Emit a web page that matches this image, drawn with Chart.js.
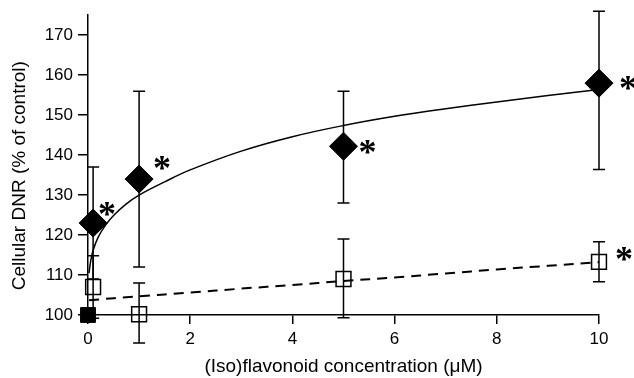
<!DOCTYPE html>
<html>
<head>
<meta charset="utf-8">
<script src="https://cdn.jsdelivr.net/npm/chart.js@4"></script>
<style>
  html, body { margin: 0; padding: 0; background: #fff; }
  #c { display: block; }
</style>
</head>
<body>
<canvas id="c" width="634" height="378"></canvas>
<script>
// ---- data ----
const xTicks = [0, 2, 4, 6, 8, 10];
const yTicks = [100, 110, 120, 130, 140, 150, 160, 170];

// filled diamonds (flavonoid)
const flavX  = [0.1, 1, 5, 10];
const flavY  = [123, 134, 142.2, 158];
const flavHi = [137, 156, 156, 176];
const flavLo = [109, 112, 128, 136.4];
const flavSig = [true, true, true, true];

// open squares (isoflavonoid)
const isoX  = [0.1, 1, 5, 10];
const isoY  = [107, 100.2, 109, 113.3];
const isoHi = [114.8, 108, 119, 118.3];
const isoLo = [99.2, 93, 99.3, 108.3];
const isoSig = [false, false, false, true];

// control point
const ctrlX = [0];
const ctrlY = [100];

// fitted solid curve
const fitSolidX = [0.02, 0.05, 0.1, 0.2, 0.35, 0.5, 0.75, 1, 1.5, 2, 3, 4, 5, 6, 7, 8, 9, 10];
const fitSolidY = [110.5, 113.3, 116.2, 119.5, 122.6, 124.9, 127.8, 130.0, 133.3, 136.3, 141.0, 144.6, 147.4, 149.7, 151.6, 153.3, 154.9, 156.4];

// fitted dashed curve
const fitDashX = [0.02, 1, 2, 3, 4, 5, 6, 7, 8, 9, 10];
const fitDashY = [103.7, 104.7, 105.6, 106.6, 107.5, 108.5, 109.4, 110.4, 111.4, 112.3, 113.2];

const toPts = (xs, ys) => xs.map((x, i) => ({ x: x, y: ys[i] }));

const FONT = '"Liberation Sans", Arial, Helvetica, sans-serif';
const STAR_FONT = '"Liberation Serif", "Times New Roman", serif';

// error bars + significance asterisks
const annotPlugin = {
  id: 'annot',
  afterDatasetsDraw(chart, args, opts) {
    const ctx = chart.ctx;
    const ys = chart.scales.y;
    ctx.save();
    ctx.strokeStyle = '#000';
    ctx.lineWidth = 1.5;
    (opts.bars || []).forEach(b => {
      const meta = chart.getDatasetMeta(b.dataset);
      meta.data.forEach((el, j) => {
        const x = el.x;
        const yt = ys.getPixelForValue(b.hi[j]);
        const yb = ys.getPixelForValue(b.lo[j]);
        ctx.beginPath();
        ctx.moveTo(x, yt); ctx.lineTo(x, yb);
        ctx.moveTo(x - 6, yt); ctx.lineTo(x + 6, yt);
        ctx.moveTo(x - 6, yb); ctx.lineTo(x + 6, yb);
        ctx.stroke();
      });
    });
    ctx.fillStyle = '#000';
    ctx.textAlign = 'left';
    ctx.textBaseline = 'alphabetic';
    // size the glyph so it is about opts.starSize px across
    ctx.font = 'bold 100px ' + STAR_FONT;
    let m = ctx.measureText('*');
    const w100 = (m.actualBoundingBoxLeft + m.actualBoundingBoxRight) || 50;
    const size = Math.round(100 * (opts.starSize || 15) / w100);
    ctx.font = 'bold ' + size + 'px ' + STAR_FONT;
    m = ctx.measureText('*');
    const gw = m.actualBoundingBoxLeft + m.actualBoundingBoxRight;
    (opts.stars || []).forEach(s => {
      const meta = chart.getDatasetMeta(s.dataset);
      meta.data.forEach((el, j) => {
        if (!s.sig[j]) return;
        const off = s.offsets[j];
        const cx = el.x + off[0];
        const cy = el.y + off[1];
        const bx = cx - gw / 2 + m.actualBoundingBoxLeft;
        const by = cy - (m.actualBoundingBoxDescent - m.actualBoundingBoxAscent) / 2;
        ctx.fillText('*', bx, by);
      });
    });
    ctx.restore();
  }
};

const bgPlugin = {
  id: 'bg',
  beforeDraw(chart) {
    const ctx = chart.ctx;
    ctx.save();
    ctx.fillStyle = '#fff';
    ctx.fillRect(0, 0, chart.width, chart.height);
    ctx.restore();
  }
};

new Chart(document.getElementById('c'), {
  type: 'scatter',
  data: {
    datasets: [
      { // 0 diamonds
        data: toPts(flavX, flavY),
        pointStyle: 'rectRot', pointRadius: 14, pointHoverRadius: 14,
        backgroundColor: '#000', borderColor: '#000', borderWidth: 1,
        showLine: false, clip: false
      },
      { // 1 open squares
        data: toPts(isoX, isoY),
        pointStyle: 'rect', pointRadius: 10.5, pointHoverRadius: 10.5,
        backgroundColor: 'rgba(0,0,0,0)', borderColor: '#000', borderWidth: 1.5,
        showLine: false, clip: false
      },
      { // 2 control
        data: toPts(ctrlX, ctrlY),
        pointStyle: 'rect', pointRadius: 10.5, pointHoverRadius: 10.5,
        backgroundColor: '#000', borderColor: '#000', borderWidth: 1,
        showLine: false, clip: false
      },
      { // 3 solid fit
        data: toPts(fitSolidX, fitSolidY),
        showLine: true, pointRadius: 0, borderColor: '#000', borderWidth: 1.5,
        tension: 0.4, fill: false, clip: false
      },
      { // 4 dashed fit
        data: toPts(fitDashX, fitDashY),
        showLine: true, pointRadius: 0, borderColor: '#000', borderWidth: 2,
        borderDash: [10, 7], tension: 0.4, fill: false, clip: false
      }
    ]
  },
  options: {
    responsive: false,
    animation: false,
    devicePixelRatio: 1,
    layout: { padding: { top: 15, right: 35, left: 0, bottom: 0 } },
    plugins: {
      legend: { display: false },
      tooltip: { enabled: false },
      annot: {
        starSize: 15,
        bars: [
          { dataset: 0, hi: flavHi, lo: flavLo },
          { dataset: 1, hi: isoHi, lo: isoLo }
        ],
        stars: [
          { dataset: 0, sig: flavSig, offsets: [[14, -14], [23, -16], [24, 1], [29, 0]] },
          { dataset: 1, sig: isoSig, offsets: [[0, 0], [0, 0], [0, 0], [25, -8]] }
        ]
      }
    },
    scales: {
      x: {
        type: 'linear', position: 'bottom', min: 0, max: 10,
        afterBuildTicks: s => { s.ticks = xTicks.map(v => ({ value: v })); },
        afterFit: s => { s.height = 63; },
        grid: { display: true, drawOnChartArea: false, drawTicks: true, tickLength: 9, color: '#000', lineWidth: 1.5 },
        border: { display: true, color: '#000', width: 1.5 },
        ticks: { color: '#000', padding: 5, autoSkip: false, maxRotation: 0, font: { family: FONT, size: 17 } },
        title: {
          display: true, text: '(Iso)flavonoid concentration (μM)', color: '#000',
          font: { family: FONT, size: 19 }, padding: { top: 0, bottom: 0 }
        }
      },
      y: {
        type: 'linear', position: 'left', min: 100, max: 175,
        afterBuildTicks: s => { s.ticks = yTicks.map(v => ({ value: v })); },
        afterFit: s => { s.width = 88; },
        grid: { display: true, drawOnChartArea: false, drawTicks: true, tickLength: 10, color: '#000', lineWidth: 1.5 },
        border: { display: true, color: '#000', width: 1.5 },
        ticks: { color: '#000', padding: 5, autoSkip: false, font: { family: FONT, size: 17 } },
        title: {
          display: true, text: 'Cellular DNR (% of control)\u00A0\u00A0\u00A0\u00A0', color: '#000',
          font: { family: FONT, size: 19 }, padding: { top: 8, bottom: 0 }
        }
      }
    }
  },
  plugins: [bgPlugin, annotPlugin]
});
</script>
</body>
</html>
